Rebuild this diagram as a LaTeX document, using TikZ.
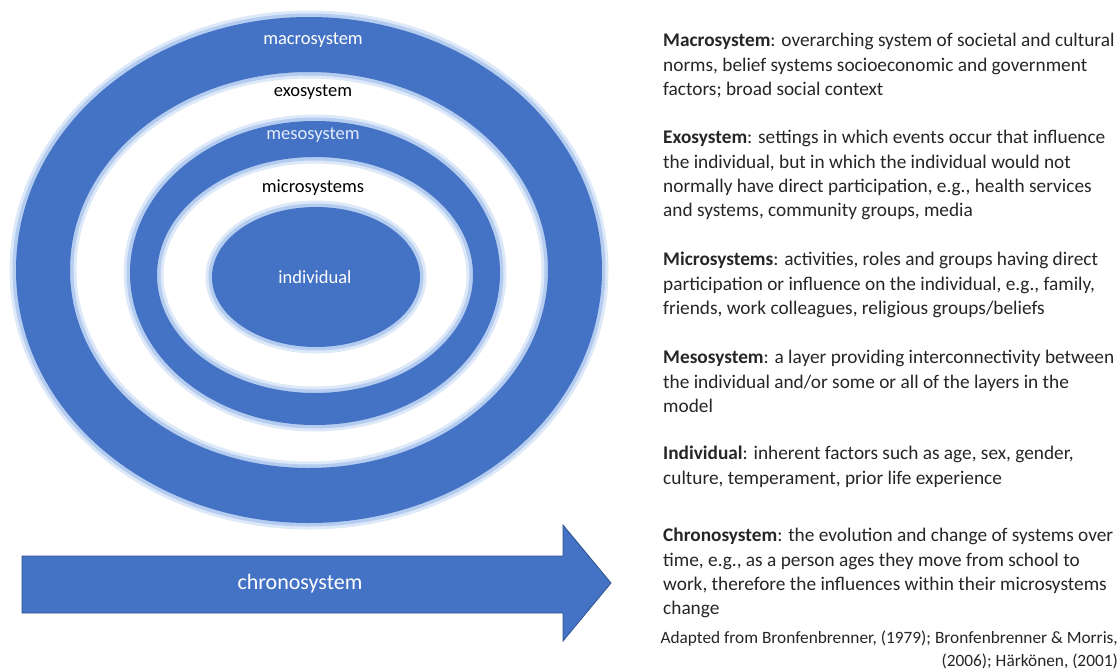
\documentclass[tikz,border=0pt]{standalone}
\usepackage{fontspec}
\setmainfont{Carlito}
\usetikzlibrary{positioning}

\definecolor{ringblue}{HTML}{4472C4}
\definecolor{haloblue}{HTML}{B4CCF0}
\definecolor{edgeblue}{HTML}{2F528F}
\definecolor{bodytext}{HTML}{262626}
\definecolor{mesotext}{HTML}{E2ECFA}

\begin{document}
\begin{tikzpicture}[x=1pt,y=-1pt,
  halo/.style={draw=haloblue,line width=7pt},
  halofaint/.style={draw=haloblue!45,line width=13pt},
  ring/.style={fill=ringblue,even odd rule},
  lbl/.style={font=\fontsize{18.5}{20}\selectfont,inner sep=0pt},
  desc/.style={font=\fontsize{19.3}{24.4}\selectfont,text=bodytext,align=left,anchor=north west,inner sep=0pt}]
\useasboundingbox[fill=white] (0,0) rectangle (1120,672);

% macrosystem ring
\path[halofaint] (309,270) ellipse [x radius=293pt,y radius=253pt] (309,270) ellipse [x radius=239pt,y radius=198pt];
\path[halo] (309,270) ellipse [x radius=293pt,y radius=253pt] (309,270) ellipse [x radius=239pt,y radius=198pt];
\path[ring] (309,270) ellipse [x radius=293pt,y radius=253pt] (309,270) ellipse [x radius=239pt,y radius=198pt];

% mesosystem ring
\path[halofaint] (315,273) ellipse [x radius=185pt,y radius=152pt] (315,275) ellipse [x radius=158pt,y radius=118pt];
\path[halo] (315,273) ellipse [x radius=185pt,y radius=152pt] (315,275) ellipse [x radius=158pt,y radius=118pt];
\path[ring] (315,273) ellipse [x radius=185pt,y radius=152pt] (315,275) ellipse [x radius=158pt,y radius=118pt];

% individual
\path[halofaint] (316,277) ellipse [x radius=104pt,y radius=70pt];
\path[halo] (316,277) ellipse [x radius=104pt,y radius=70pt];
\path[ring] (316,277) ellipse [x radius=104pt,y radius=70pt];

\node[lbl,text=white] (macro) at (313,40) {macrosystem};
\node[lbl] (exo) at (313,92) {exosystem};
\node[lbl,text=mesotext] (meso) at (313,135) {mesosystem};
\node[lbl] (micro) at (313,188) {microsystems};
\node[lbl,text=white] (indiv) at (315,277) {individual};

% chronosystem arrow
\fill[ringblue,draw=edgeblue,line width=0.8pt] (22,556) -- (563,556) -- (563,525) -- (611,583) -- (563,641) -- (563,613) -- (22,613) -- cycle;
\node[lbl,text=white,font=\fontsize{22}{24}\selectfont] (chrono) at (300,584) {chronosystem};

% descriptions
\node[desc] (macrodesc) at (663,33) {\textbf{Macrosystem}: overarching system of societal and cultural\\norms, belief systems socioeconomic and government\\factors; broad social context};
\node[desc] (exodesc) at (663,130) {\textbf{Exosystem}: settings in which events occur that influence\\the individual, but in which the individual would not\\normally have direct participation, e.g., health services\\and systems, community groups, media};
\node[desc] (microdesc) at (663,252) {\textbf{Microsystems}: activities, roles and groups having direct\\participation or influence on the individual, e.g., family,\\friends, work colleagues, religious groups/beliefs};
\node[desc] (mesodesc) at (663,350) {\textbf{Mesosystem}: a layer providing interconnectivity between\\the individual and/or some or all of the layers in the\\model};
\node[desc] (indivdesc) at (663,446) {\textbf{Individual}: inherent factors such as age, sex, gender,\\culture, temperament, prior life experience};
\node[desc] (chronodesc) at (663,528) {\textbf{Chronosystem}: the evolution and change of systems over\\time, e.g., as a person ages they move from school to\\work, therefore the influences within their microsystems\\change};
\node[desc,anchor=north east,align=right,font=\fontsize{17.3}{22.5}\selectfont] (source) at (1118,631) {Adapted from Bronfenbrenner, (1979); Bronfenbrenner \& Morris,\\(2006); Härkönen, (2001)};
\end{tikzpicture}
\end{document}
